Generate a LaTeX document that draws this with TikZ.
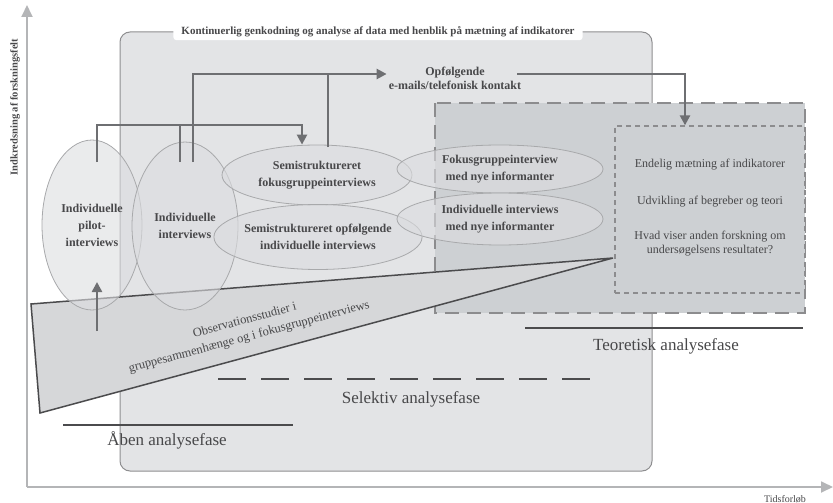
\documentclass[tikz,border=0pt]{standalone}
\usepackage{fontspec}
\setmainfont{Liberation Serif}
\usetikzlibrary{arrows.meta,shapes.geometric}

\definecolor{panelfill}{HTML}{E3E4E6}
\definecolor{panelline}{HTML}{8E8E90}
\definecolor{zonefill}{HTML}{CDD0D3}
\definecolor{zoneline}{HTML}{8C8C8E}
\definecolor{bubblefill}{HTML}{DCDDE0}
\definecolor{bubbleline}{HTML}{A8A9AB}
\definecolor{flowgrey}{HTML}{6E6F72}
\definecolor{textgrey}{HTML}{48484A}
\definecolor{axisgrey}{HTML}{B4B5B7}
\definecolor{wedgefill}{HTML}{D6D7D9}
\definecolor{wedgeline}{HTML}{4B4B4D}

\tikzset{bubble/.style = {shape = ellipse,
                          draw = bubbleline,
                          fill = bubblefill,
                          fill opacity = 0.6,
                          text opacity = 1,
                          line width = 0.8pt,
                          inner sep = 0pt,
                          align = center,
                          text = textgrey,
                          font = \bfseries\fontsize{12}{17}\selectfont},
         flowline/.style = {draw = flowgrey,
                            line width = 2.4pt},
         flowarrow/.style = {flowline,
                             -{Triangle[length=10pt,width=10pt]}},
         axisline/.style = {draw = axisgrey,
                            line width = 1.8pt,
                            -{Triangle[length=12pt,width=11pt]}},
         zonetext/.style = {text = textgrey,
                            align = center,
                            font = \fontsize{12}{13.5}\selectfont},
         phaseline/.style = {draw = wedgeline,
                             line width = 1.5pt},
         phasetext/.style = {text = textgrey,
                             font = \fontsize{17}{20}\selectfont}}

\begin{document}
\begin{tikzpicture}[x=1pt,y=-1pt]
    \useasboundingbox (0,0) rectangle (833,503);

    \coordinate (origo) at (27,487);
    \coordinate (ytop) at (27,5);
    \coordinate (xend) at (833,487);
    \draw[axisline] (origo) -- (ytop);
    \draw[axisline] (origo) -- (xend);
    \node[rotate=90, text=textgrey, font=\bfseries\fontsize{10.5}{12}\selectfont] (ylabel) at (15,107) {Indkredsning af forskningsfelt};
    \node[text=textgrey, font=\fontsize{10}{12}\selectfont] (xlabel) at (785,499) {Tidsforløb};

    \draw[fill=panelfill, draw=panelline, line width=1pt, rounded corners=10pt] (120,32) rectangle (652,471);
    \node[fill=white, rounded corners=3pt, text=textgrey, inner xsep=8pt, inner ysep=3pt,
          font=\bfseries\fontsize{11}{12}\selectfont] (titel) at (378,32) {Kontinuerlig genkodning og analyse af data med henblik på mætning af indikatorer};

    \draw[fill=zonefill, draw=zoneline, line width=1.6pt, dash pattern=on 14pt off 8pt] (435,103) rectangle (805,313);
    \node[draw=zoneline, fill=zonefill, line width=1.3pt, dash pattern=on 5pt off 4pt,
          minimum width=190pt, minimum height=167pt] (teori) at (710,209.5) {};
    \node[zonetext] (maetning) at (710,165) {Endelig mætning af indikatorer};
    \node[zonetext] (begreber) at (710,202) {Udvikling af begreber og teori};
    \node[zonetext] (forskning) at (710,243.5) {Hvad viser anden forskning om\\undersøgelsens resultater?};

    \coordinate (wedgeTL) at (31,304);
    \coordinate (wedgeTip) at (613,258);
    \coordinate (wedgeBL) at (40,413);
    \draw[fill=wedgefill, draw=wedgeline, line width=1.5pt, line join=miter] (wedgeTL) -- (wedgeTip) -- (wedgeBL) -- cycle;
    \node[rotate=15, align=center, text=textgrey, font=\fontsize{12.5}{17}\selectfont] (obs) at (247,329) {Observationsstudier i\\gruppesammenhænge og i fokusgruppeinterviews};

    \node[bubble, minimum width=100pt, minimum height=170pt] (pilot) at (92,225) {Individuelle\\pilot-\\interviews};
    \node[bubble, minimum width=106pt, minimum height=168pt] (indiv) at (185,226) {Individuelle\\interviews};
    \node[bubble, minimum width=190pt, minimum height=60pt] (semifokus) at (317,175) {Semistruktureret\\fokusgruppeinterviews};
    \node[bubble, minimum width=190pt, minimum height=65pt] (semiopf) at (318,237) {Semistruktureret opfølgende\\individuelle interviews};
    \node[bubble, minimum width=206pt, minimum height=48pt] (fokusnye) at (500,169) {Fokusgruppeinterview\\med nye informanter};
    \node[bubble, minimum width=206pt, minimum height=52pt] (indivnye) at (500,219) {Individuelle interviews\\med nye informanter};

    \node[text=textgrey, align=center, inner sep=2pt,
          font=\bfseries\fontsize{12}{14}\selectfont] (opf) at (455,78) {Opfølgende\\e-mails/telefonisk kontakt};

    \coordinate (bendA) at (302,125);
    \coordinate (bendB) at (328,74);
    \coordinate (pilotTop) at (97,162);
    \coordinate (indivTopA) at (180,162);
    \coordinate (indivTopB) at (193,162);
    \coordinate (fokusTop) at (328,147);
    \coordinate (opfOut) at (517,74);
    \coordinate (pilotBase) at (97,331);
    \coordinate (pilotUp) at (97,282);

    \draw[flowarrow] (pilotTop) |- (bendA) -- (bendA |- semifokus.north);
    \draw[flowline] (indivTopA) -- (indivTopA |- bendA);
    \draw[flowarrow] (indivTopB) |- (opf.west |- bendB);
    \draw[flowline] (fokusTop) -- (bendB);
    \draw[flowarrow] (opfOut) -| ([xshift=-25pt]teori.north);
    \draw[flowarrow] (pilotBase) -- (pilotUp);

    \draw[phaseline] (63,425) -- (293,425);
    \node[phasetext] (aaben) at (167,440) {Åben analysefase};
    \draw[phaseline, dash pattern=on 28pt off 15pt] (218,379) -- (604,379);
    \node[phasetext] (selektiv) at (411,399) {Selektiv analysefase};
    \draw[phaseline] (525,328) -- (803,328);
    \node[phasetext] (teoretisk) at (666,346) {Teoretisk analysefase};
\end{tikzpicture}
\end{document}
